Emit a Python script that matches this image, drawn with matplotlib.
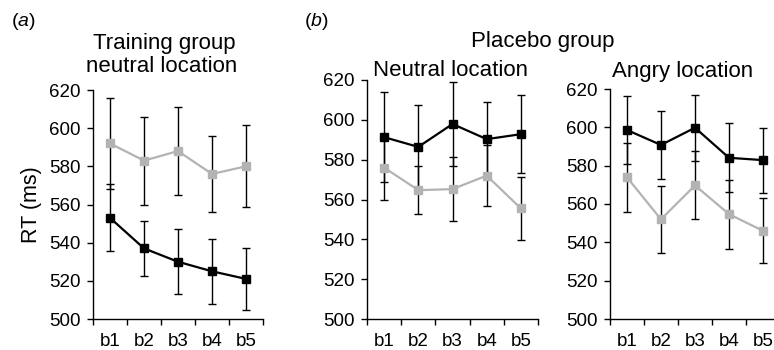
import matplotlib
matplotlib.use('Agg')
import matplotlib.pyplot as plt

plt.rcParams['font.family'] = ['Liberation Sans', 'DejaVu Sans']
plt.rcParams['mathtext.fontset'] = 'custom'
plt.rcParams['mathtext.rm'] = 'Liberation Sans'
plt.rcParams['mathtext.it'] = 'Liberation Sans:italic'

# block labels
blocks = ['b1', 'b2', 'b3', 'b4', 'b5']

# (a) training group, neutral location
train_gray = [592, 583, 588, 576, 580]
train_gray_err = [24, 23, 23, 20, 21.5]
train_black = [553, 537, 530, 525, 521]
train_black_err = [17.5, 14.5, 17, 17, 16.3]

# (b) placebo group, neutral location
neut_black = [591.3, 586.4, 597.9, 590.3, 592.8]
neut_black_err = [22.7, 20.8, 20.9, 18.6, 19.6]
neut_gray = [576, 564.7, 565.2, 572, 555.5]
neut_gray_err = [16.3, 12.2, 16, 15.5, 16]

# (b) placebo group, angry location
angry_black = [598.6, 590.8, 599.8, 584.1, 582.9]
angry_black_err = [17.5, 17.5, 17.3, 18, 17]
angry_gray = [573.9, 552, 569.7, 554.7, 546]
angry_gray_err = [18, 17.5, 17.7, 18, 17]

W, H = 774, 350
fig = plt.figure(figsize=(W / 100, H / 100), dpi=100)
GRAY = '#b3b3b3'
TICK_FS = 13.5
TITLE_FS = 16


def px_axes(x0, x1, ytop, ybot):
    return fig.add_axes([x0 / W, 1 - ybot / H, (x1 - x0) / W, (ybot - ytop) / H])


def draw(ax, series):
    xs = [i + 0.5 for i in range(len(blocks))]
    for vals, errs, col in series:
        ax.errorbar(xs, vals, yerr=errs, fmt='none', ecolor='black',
                    elinewidth=1, capsize=3, capthick=1, zorder=1)
        ax.plot(xs, vals, color=col, lw=1.6, marker='s', ms=6,
                mec=col, mfc=col, zorder=2)
    ax.set_xlim(0, 5)
    ax.set_ylim(500, 620)
    ax.set_yticks(range(500, 621, 20))
    ax.set_xticks(range(6))
    ax.set_xticklabels([])
    ax.set_xticks(xs, minor=True)
    ax.set_xticklabels(blocks, minor=True)
    ax.tick_params(axis='x', which='major', length=4, width=1, direction='out')
    ax.tick_params(axis='x', which='minor', length=0, pad=10, labelsize=TICK_FS)
    ax.tick_params(axis='y', length=4, width=1, pad=5, labelsize=TICK_FS)
    for s in ['top', 'right']:
        ax.spines[s].set_visible(False)
    for s in ['left', 'bottom']:
        ax.spines[s].set_linewidth(1)


ax1 = px_axes(93, 263, 90, 319)
draw(ax1, [(train_gray, train_gray_err, GRAY), (train_black, train_black_err, 'black')])
ax1.set_ylabel('RT (ms)', fontsize=15.5, labelpad=5)

ax2 = px_axes(367, 538, 80, 319)
draw(ax2, [(neut_gray, neut_gray_err, GRAY), (neut_black, neut_black_err, 'black')])

ax3 = px_axes(610, 780, 89, 319)
draw(ax3, [(angry_gray, angry_gray_err, GRAY), (angry_black, angry_black_err, 'black')])

# panel letters and titles
fig.text(11 / W, 1 - 21 / H, r'($\mathit{a}$)', fontsize=14, va='center', ha='left')
fig.text(304 / W, 1 - 21 / H, r'($\mathit{b}$)', fontsize=14, va='center', ha='left')

fig.text(164 / W, 1 - 44 / H, 'Training group', fontsize=TITLE_FS, ha='center', va='center')
fig.text(162 / W, 1 - 66 / H, 'neutral location', fontsize=TITLE_FS, ha='center', va='center')
fig.text(543 / W, 1 - 41 / H, 'Placebo group', fontsize=TITLE_FS, ha='center', va='center')
fig.text(451 / W, 1 - 71 / H, 'Neutral location', fontsize=TITLE_FS, ha='center', va='center')
fig.text(683 / W, 1 - 71 / H, 'Angry location', fontsize=TITLE_FS, ha='center', va='center')

fig.savefig('out.png', dpi=100)
